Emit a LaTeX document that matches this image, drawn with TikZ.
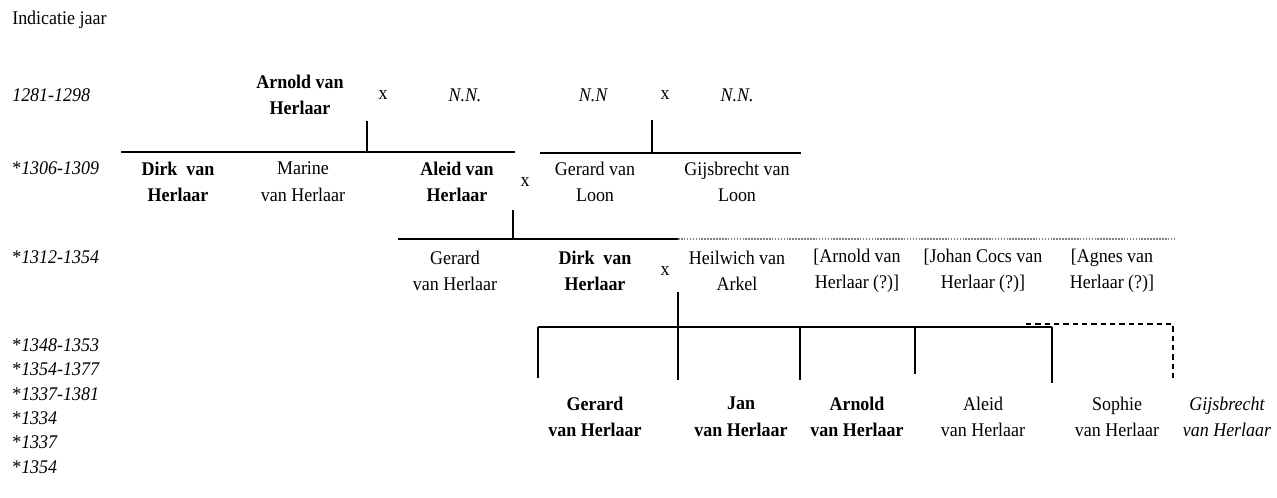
\documentclass[tikz,border=0pt]{standalone}
\usepackage{fontspec}
\setmainfont{Liberation Serif}[FakeStretch=0.93]
\begin{document}
\begin{tikzpicture}
  [x=0.75pt, y=-0.75pt,
   pers/.style={align=center, inner sep=0pt, font=\fontsize{14.5}{20}\selectfont},
   boldpers/.style={pers, font=\fontsize{14.5}{20}\selectfont\bfseries},
   itpers/.style={pers, font=\fontsize{14.5}{20}\selectfont\itshape},
   yearlbl/.style={anchor=west, inner sep=0pt, font=\fontsize{14.5}{20}\selectfont},
   famline/.style={line width=1.4pt},
   kidline/.style={line width=0.8pt},
   guessline/.style={line width=1pt, dashed, dash pattern=on 4pt off 3pt}]
  \useasboundingbox (0,0) rectangle (1277,498);
  % Setup constants
  \def\yearx{12}
  \def\rowa{95}
  \def\rowb{182}
  \def\rowc{271}
  \def\rowd{417}
  % Year column
  \node[yearlbl] (hdr) at (\yearx,20) {Indicatie jaar};
  \node[yearlbl] (ya) at (\yearx,\rowa) {\textit{1281-1298}};
  \node[yearlbl] (yb) at (\yearx,168) {*\textit{1306-1309}};
  \node[yearlbl] (yc) at (\yearx,257) {*\textit{1312-1354}};
  \foreach \yr [count=\i] in {1348-1353, 1354-1377, 1337-1381, 1334, 1337, 1354} {
    \node[yearlbl] (yd\i) at (\yearx, 320.6+24.4*\i) {*\textit{\yr}};
  }

  % First generation: the two couples
  \node[boldpers] (arnold) at (300,\rowa) {Arnold van\\Herlaar};
  \node[pers] (xa) at (383,\rowa) {x};
  \node[itpers] (nna) at (465,\rowa) {N.N.};
  \node[itpers] (nnb) at (593,\rowa) {N.N};
  \node[pers] (xb) at (665,\rowa) {x};
  \node[itpers] (nnc) at (737,\rowa) {N.N.};
  \coordinate (arntop) at (367,121);
  \coordinate (arnbot) at (367,152);
  \coordinate (arnl) at (121,152);
  \coordinate (arnr) at (515,152);
  \draw[famline] (arntop) -- (arnbot);
  \draw[famline] (arnl) -- (arnr);
  \coordinate (loontop) at (652,120);
  \coordinate (loonbot) at (652,153);
  \coordinate (loonl) at (540,153);
  \coordinate (loonr) at (801,153);
  \draw[famline] (loontop) -- (loonbot);
  \draw[famline] (loonl) -- (loonr);

  % Second generation
  \node[boldpers] (dirka) at (178,\rowb) {Dirk\ \ van\\Herlaar};
  \node[pers] (marine) at (303,\rowb) {Marine\\van Herlaar};
  \node[boldpers] (aleida) at (457,\rowb) {Aleid van\\Herlaar};
  \node[pers] (xc) at (525,\rowb) {x};
  \node[pers] (gerloon) at (595,\rowb) {Gerard van\\Loon};
  \node[pers] (gijloon) at (737,\rowb) {Gijsbrecht van\\Loon};
  \coordinate (aletop) at (513,210);
  \coordinate (alebot) at (513,239);
  \coordinate (alel) at (398,239);
  \coordinate (alem) at (678,239);
  \coordinate (aler) at (1175,239);
  \draw[famline] (aletop) -- (alebot);
  \draw[famline] (alel) -- (alem);
  \draw[line width=1.2pt, gray, densely dotted] (alem) -- (aler);

  % Third generation
  \node[pers] (gerarda) at (455,\rowc) {Gerard\\van Herlaar};
  \node[boldpers] (dirkb) at (595,\rowc) {Dirk\ \ van\\Herlaar};
  \node[pers] (xd) at (665,\rowc) {x};
  \node[pers] (heilwich) at (737,\rowc) {Heilwich van\\Arkel};
  \node[pers] (arnoldq) at (857,\rowc) {[Arnold van\\Herlaar (?)]};
  \node[pers] (johan) at (983,\rowc) {[Johan Cocs van\\Herlaar (?)]};
  \node[pers] (agnes) at (1112,\rowc) {[Agnes van\\Herlaar (?)]};
  \coordinate (dirtop) at (678,292);
  \coordinate (dirbot) at (678,327);
  \coordinate (dirl) at (538,327);
  \coordinate (dirr) at (1052,327);
  \draw[famline] (dirtop) -- (dirbot);
  \draw[famline] (dirl) -- (dirr);
  % drop lines to the children
  \foreach \cx/\cb [count=\i] in {538/378, 678/380, 800/380, 915/374, 1052/383} {
    \coordinate (kt\i) at (\cx,327);
    \coordinate (kb\i) at (\cx,\cb);
    \draw[kidline] (kt\i) -- (kb\i);
  }
  % uncertain branch
  \coordinate (gsa) at (1026,324);
  \coordinate (gsb) at (1173,324);
  \coordinate (gsc) at (1173,379);
  \draw[guessline] (gsa) -- (gsb) -- (gsc);

  % Fourth generation
  \node[boldpers] (gerardb) at (595,\rowd) {Gerard\\van Herlaar};
  \node[boldpers] (jan) at (741,\rowd) {Jan\\van Herlaar};
  \node[boldpers] (arnoldb) at (857,\rowd) {Arnold\\van Herlaar};
  \node[pers] (aleidb) at (983,\rowd) {Aleid\\van Herlaar};
  \node[pers] (sophie) at (1117,\rowd) {Sophie\\van Herlaar};
  \node[itpers] (gijsb) at (1227,\rowd) {Gijsbrecht\\van Herlaar};
\end{tikzpicture}
\end{document}
